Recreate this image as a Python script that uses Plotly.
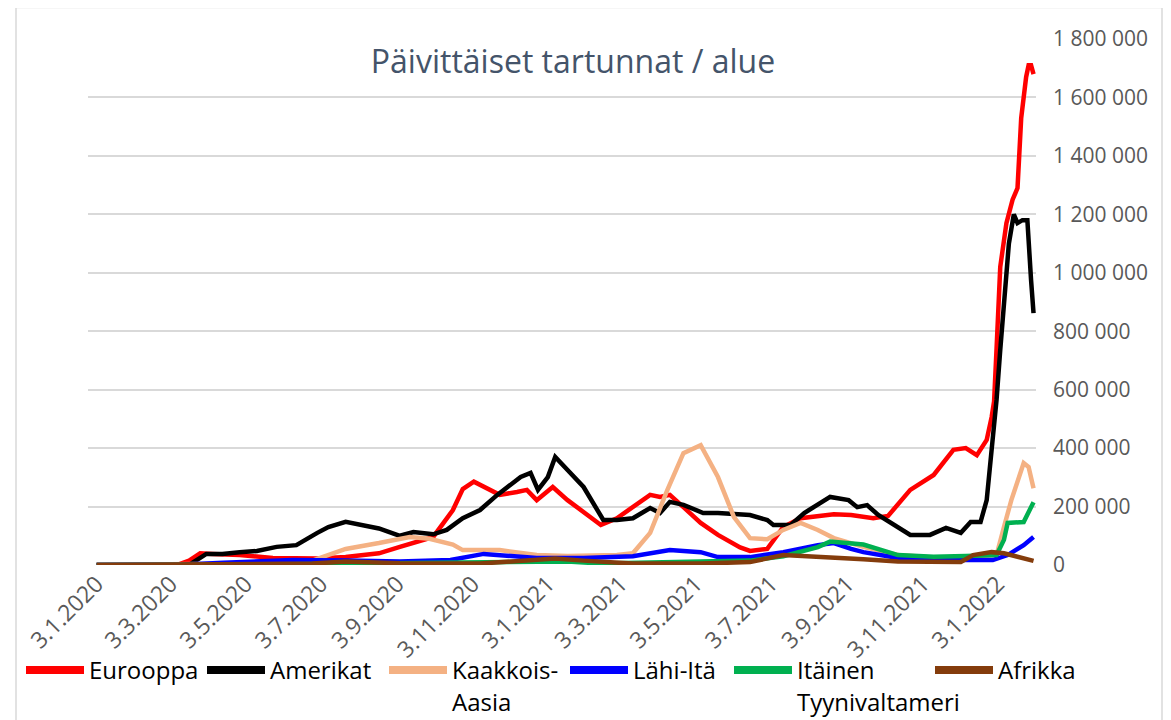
import plotly.graph_objects as go

# ---------------- data ----------------
eur_dates = ["2020-01-03","2020-03-08","2020-03-18","2020-03-27","2020-04-06","2020-04-28","2020-05-25","2020-06-30",
             "2020-07-23","2020-08-19","2020-09-05","2020-10-02","2020-10-18","2020-10-26","2020-11-04","2020-11-25",
             "2020-12-09","2020-12-17","2020-12-25","2021-01-07","2021-01-19","2021-02-01","2021-02-15","2021-02-28",
             "2021-03-27","2021-04-04","2021-04-12","2021-04-23","2021-05-07","2021-05-21","2021-06-08","2021-06-16",
             "2021-06-30","2021-07-13","2021-07-27","2021-08-23","2021-09-06","2021-09-24","2021-10-06","2021-10-24",
             "2021-11-12","2021-11-28","2021-12-08","2021-12-17","2021-12-25","2021-12-29","2021-12-31","2022-01-02",
             "2022-01-05","2022-01-10","2022-01-15","2022-01-19","2022-01-22","2022-01-26","2022-01-28","2022-01-30",
             "2022-02-01"]
eur_values = [0,0,15000,40000,38000,34000,24000,22000,
              27000,40000,62000,96000,188000,260000,285000,240000,
              250000,257000,222000,267000,222000,181000,137000,160000,
              240000,233000,240000,198000,144000,103000,60000,48000,
              55000,130000,160000,174000,171000,160000,168000,257000,
              308000,394000,400000,376000,428000,506000,560000,740000,
              1020000,1170000,1250000,1290000,1530000,1670000,1710000,1710000,
              1680000]

ame_dates = ["2020-01-03","2020-03-18","2020-04-01","2020-04-14","2020-04-28","2020-05-12","2020-05-28","2020-06-13",
             "2020-06-30","2020-07-09","2020-07-23","2020-08-03","2020-08-19","2020-09-05","2020-09-16","2020-10-02",
             "2020-10-13","2020-10-26","2020-11-09","2020-11-23","2020-12-12","2020-12-20","2020-12-26","2021-01-03",
             "2021-01-09","2021-01-19","2021-02-01","2021-02-17","2021-02-28","2021-03-13","2021-03-27","2021-04-04",
             "2021-04-12","2021-04-23","2021-05-09","2021-05-21","2021-06-16","2021-06-30","2021-07-05","2021-07-19",
             "2021-07-30","2021-08-20","2021-09-04","2021-09-11","2021-09-19","2021-09-28","2021-10-14","2021-10-24",
             "2021-11-09","2021-11-22","2021-12-04","2021-12-12","2021-12-20","2021-12-25","2021-12-29","2022-01-02",
             "2022-01-05","2022-01-12","2022-01-16","2022-01-19","2022-01-23","2022-01-27","2022-01-30","2022-02-01"]
ame_values = [0,0,38000,38000,44000,48000,62000,68000,
              110000,130000,148000,140000,125000,100000,113000,105000,
              120000,160000,188000,240000,301000,315000,257000,301000,
              370000,325000,267000,154000,154000,160000,195000,178000,
              216000,206000,178000,178000,171000,154000,137000,137000,
              178000,233000,222000,198000,205000,171000,127000,103000,
              103000,127000,110000,147000,147000,222000,394000,565000,
              736000,1100000,1200000,1170000,1180000,1180000,975000,862000]

sea_dates = ["2020-01-03","2020-03-15","2020-05-01","2020-06-26","2020-07-23","2020-08-19","2020-09-13","2020-09-29",
             "2020-10-18","2020-10-26","2020-11-25","2020-12-25","2021-01-19","2021-02-28","2021-03-13","2021-03-27",
             "2021-04-10","2021-04-23","2021-05-07","2021-05-21","2021-06-03","2021-06-16","2021-06-30","2021-07-13",
             "2021-07-27","2021-08-10","2021-08-23","2021-09-16","2021-10-14","2021-11-15","2021-12-25","2022-01-02",
             "2022-01-08","2022-01-14","2022-01-24","2022-01-28","2022-02-01"]
sea_values = [0,2000,5000,15000,55000,75000,96000,90000,
              70000,51000,51000,34000,31000,34000,40000,110000,
              257000,383000,410000,301000,164000,92000,88000,120000,
              144000,120000,92000,62000,34000,25000,30000,34000,
              130000,222000,349000,335000,263000]

mea_dates = ["2020-01-03","2020-03-15","2020-04-15","2020-06-10","2020-07-23","2020-09-05","2020-10-16","2020-11-12",
             "2020-12-25","2021-02-01","2021-03-13","2021-04-12","2021-05-07","2021-05-21","2021-06-16","2021-07-13",
             "2021-08-10","2021-08-23","2021-09-06","2021-09-16","2021-10-14","2021-11-15","2021-12-30","2022-01-11",
             "2022-01-24","2022-02-01"]
mea_values = [0,2000,8000,17000,15000,12000,17000,38000,
              24000,24000,30000,51000,44000,27000,27000,44000,
              68000,75000,55000,44000,24000,17000,17000,34000,
              68000,96000]

wpr_dates = ["2020-01-03","2020-01-25","2020-02-10","2020-03-15","2020-06-26","2020-08-03","2020-09-05","2020-12-25",
             "2021-01-19","2021-02-15","2021-04-12","2021-05-21","2021-06-16","2021-07-13","2021-08-10","2021-08-20",
             "2021-09-16","2021-10-14","2021-11-12","2021-12-08","2022-01-02","2022-01-08","2022-01-11","2022-01-24",
             "2022-01-30","2022-02-01"]
wpr_values = [0,1000,3000,1000,3000,5000,3000,10000,
              12000,5000,8000,12000,15000,30000,61000,80000,
              70000,34000,28000,31000,34000,86000,144000,147000,
              200000,215000]

afr_dates = ["2020-01-03","2020-04-15","2020-06-26","2020-07-23","2020-09-05","2020-11-09","2020-12-25","2021-01-09",
             "2021-02-01","2021-03-13","2021-05-07","2021-06-16","2021-07-13","2021-08-20","2021-09-16","2021-10-14",
             "2021-12-04","2021-12-14","2021-12-29","2022-01-08","2022-01-19","2022-02-01"]
afr_values = [0,1000,5000,12000,6000,5000,15000,22000,
              15000,5000,5000,10000,34000,27000,20000,12000,
              10000,34000,44000,40000,27000,14000]

series_names = ["Eurooppa", "Amerikat", "Kaakkois-<br>Aasia", "Lähi-Itä", "Itäinen<br>Tyynivaltameri", "Afrikka"]
series_colors = ["#FF0000", "#000000", "#F4B183", "#0000FF", "#00B050", "#843C0C"]
series_data = [(eur_dates, eur_values), (ame_dates, ame_values), (sea_dates, sea_values),
               (mea_dates, mea_values), (wpr_dates, wpr_values), (afr_dates, afr_values)]

x_tick_dates = ["2020-01-03","2020-03-03","2020-05-03","2020-07-03","2020-09-03","2020-11-03",
                "2021-01-03","2021-03-03","2021-05-03","2021-07-03","2021-09-03","2021-11-03","2022-01-03"]
x_tick_labels = ["3.1.2020","3.3.2020","3.5.2020","3.7.2020","3.9.2020","3.11.2020",
                 "3.1.2021","3.3.2021","3.5.2021","3.7.2021","3.9.2021","3.11.2021","3.1.2022"]
y_tick_values = [0,200000,400000,600000,800000,1000000,1200000,1400000,1600000,1800000]

# ---------------- figure ----------------
# the page body has an 8px margin, so the figure is 8px smaller than the window
OFF = 8
W, H = 1171 - OFF, 720 - OFF
L, T = 88 - OFF, 39 - OFF
PLOT_RIGHT, PLOT_BOTTOM = 1036 - OFF, 565 - OFF
R, B = W - PLOT_RIGHT, H - PLOT_BOTTOM
PW, PH = W - L - R, H - T - B

def px_x(p):  # screen px -> paper x
    return (p - OFF - L) / PW

def px_y(p):  # screen px -> paper y
    return (H - B - (p - OFF)) / PH

fig = go.Figure()
legend_ids = ["legend", "legend2", "legend3", "legend4", "legend5", "legend6"]
for i, ((xd, yd), name, col) in enumerate(zip(series_data, series_names, series_colors)):
    fig.add_trace(go.Scatter(x=xd, y=yd, mode="lines", name=name, legendgroup=name,
                             line=dict(color=col, width=4.5), showlegend=False,
                             hovertemplate="%{x|%-d.%-m.%Y}: %{y:,}<extra>" + name.replace("<br>", " ") + "</extra>"))

# legend entries (thicker swatches like the reference)
for i, (name, col) in enumerate(zip(series_names, series_colors)):
    fig.add_trace(go.Scatter(x=[None], y=[None], mode="lines", name=name, legendgroup=name,
                             line=dict(color=col, width=8), legend=legend_ids[i], showlegend=True))

swatch_left_px = [28, 209, 391, 572, 736, 937]
legend_font = dict(family="Open Sans", size=24, color="#000000")
leg_common = dict(orientation="v", yanchor="top", xanchor="left", bgcolor="rgba(0,0,0,0)",
                  xref="container", yref="container",
                  font=legend_font, valign="top", itemwidth=58, tracegroupgap=0)
layout_legends = {}
for i, lid in enumerate(legend_ids):
    layout_legends[lid] = dict(x=(swatch_left_px[i] - 7 - OFF) / W, y=1 - 640 / H, **leg_common)

fig.update_layout(
    width=W, height=H,
    margin=dict(l=L, r=R, t=T, b=B, autoexpand=False),
    paper_bgcolor="white", plot_bgcolor="white",
    separators=", ",
    title=dict(text="Päivittäiset tartunnat / alue", x=(573 - OFF) / W, xanchor="center",
               y=1 - (62 - OFF) / H, yanchor="middle", yref="container", xref="container",
               font=dict(family="Open Sans", size=32, color="#44546A")),
    xaxis=dict(type="date", range=["2019-12-27", "2022-02-03"], tickvals=x_tick_dates, ticktext=x_tick_labels,
               tickangle=-45, showgrid=False, zeroline=False, showline=False, ticks="",
               tickfont=dict(family="Open Sans", size=23, color="#595959")),
    yaxis=dict(range=[0, 1800000], side="right", tickvals=y_tick_values, tickformat=",d",
               showgrid=True, gridcolor="#D9D9D9", gridwidth=1.5, zeroline=False, showline=False, ticks="",
               ticklabelstandoff=16, tickfont=dict(family="Open Sans", size=21, color="#595959")),
    shapes=[dict(type="rect", xref="paper", yref="paper",
                 x0=px_x(16), x1=px_x(1162), y0=px_y(740), y1=(H - B + 0.5) / PH,
                 line=dict(color="#D9D9D9", width=1.5), fillcolor="rgba(0,0,0,0)", layer="below")],
    **layout_legends,
)

fig.write_html("out.html")
